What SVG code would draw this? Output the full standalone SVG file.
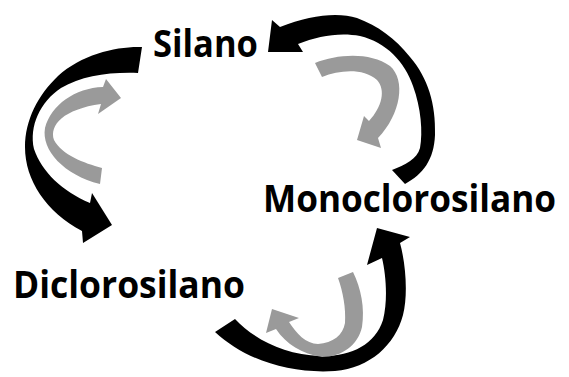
<svg xmlns="http://www.w3.org/2000/svg" width="569" height="377" viewBox="0 0 569 377">
  <style>
    .label { font-family: "Open Sans", "Noto Sans", "Liberation Sans", sans-serif; font-weight: 700; font-size: 37px; fill: #000; }
    .main { fill: #000; }
    .back { fill: #9a9a9a; }
  </style>
  <rect width="569" height="377" fill="#fff"/>

  <!-- curved block arrows between the three compounds -->
  <g id="connectors">
    <!-- Silano -> Diclorosilano -->
    <path class="main" d="M142,47 C118,46 82,54 58,76 C38,95 25,120 25,147 C25,180 46,212 82,231 L83,243 L112,225 L92,193 L90,203 C62,191 42,172 34,149 C29,126 40,102 61,88 C82,76 108,72 138,73 Z"/>
    <!-- Diclorosilano -> Silano (return) -->
    <path class="back" d="M102,168 C84,163 62,155 54,140 C49,125 64,109 101,104 L98,114 L121,98 L106,79 L103,87 C75,88 51,105 45,128 C41,150 64,175 100,184 Z"/>

    <!-- Monoclorosilano -> Silano -->
    <path class="main" d="M272,20 L268,52 L303,52 L298,44 C318,36 340,32 360,36 C386,42 405,62 413,86 C421,108 423,132 420,148 C417,159 405,165 392,170 L405,184 C423,174 434,160 435,135 C436,104 428,78 410,57 C395,38 378,26 357,18 C338,12 310,15 280,27 Z"/>
    <!-- Silano -> Monoclorosilano (return) -->
    <path class="back" d="M315,63 C338,54 370,52 390,66 C406,80 401,114 378,138 L381,148 L357,140 L364,116 L369,121 C382,107 386,90 377,80 C363,68 340,70 322,77 Z"/>

    <!-- Diclorosilano -> Monoclorosilano -->
    <path class="main" d="M235,319 C255,340 285,355 320,356 C350,357 375,345 383,320 C388,300 386,275 382,258 L367,265 L377,228 L410,237 L400,243 C406,265 408,295 403,315 C395,345 370,368 335,371 C290,374 245,360 215,332 Z"/>
    <!-- Monoclorosilano -> Diclorosilano (return) -->
    <path class="back" d="M338,278 C343,292 346,308 345,323 C343,335 333,343 318,344 C306,344 296,333 289,322 L299,318 L272,309 L266,333 L276,329 C286,344 302,354 322,357 C342,357 358,345 362,327 C365,308 361,288 353,272 Z"/>
  </g>

  <g id="silano">
    <text class="label" x="153" y="57" textLength="105" lengthAdjust="spacingAndGlyphs">Silano</text>
  </g>
  <g id="monoclorosilano">
    <text class="label" x="263" y="212" textLength="293" lengthAdjust="spacingAndGlyphs">Monoclorosilano</text>
  </g>
  <g id="diclorosilano">
    <text class="label" x="13" y="298" textLength="232" lengthAdjust="spacingAndGlyphs">Diclorosilano</text>
  </g>
</svg>
